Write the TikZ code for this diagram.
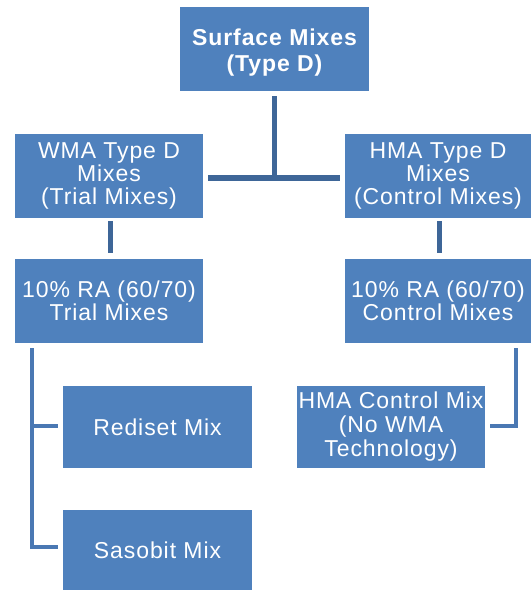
\documentclass[tikz,border=0pt]{standalone}
\usepackage{fontspec}
\setmainfont{Liberation Sans}
\newfontfamily\boxfont[LetterSpace=4]{Liberation Sans}
\definecolor{boxblue}{HTML}{4F81BD}
\definecolor{linedark}{HTML}{3E6698}
\definecolor{linelight}{HTML}{4A78B3}
\tikzset{
  mixbox/.style={rectangle, fill=boxblue, draw=none, inner sep=0pt, text=white, align=center,
    font={\boxfont\fontsize{23}{22.8}\selectfont}},
  topbox/.style={mixbox, font={\boxfont\bfseries\fontsize{23}{26}\selectfont}},
  conndark/.style={draw=linedark, line width=5.5pt},
  connlight/.style={draw=linelight, line width=3.5pt}
}
\begin{document}
\begin{tikzpicture}[x=1pt,y=-1pt]
\useasboundingbox (0,0) rectangle (531,590);
\node[topbox, minimum width=189pt, minimum height=84pt] (top) at (274.5,49) {\rule{0pt}{23pt}Surface Mixes\\(Type D)};
\node[mixbox, minimum width=188pt, minimum height=84pt] (wma) at (109,176) {WMA Type D\\Mixes\\(Trial Mixes)};
\node[mixbox, minimum width=186pt, minimum height=84pt] (hma) at (438,176) {HMA Type D\\Mixes\\(Control Mixes)};
\node[mixbox, minimum width=188pt, minimum height=84pt] (ra1) at (109,301) {10\% RA (60/70)\\Trial Mixes};
\node[mixbox, minimum width=186pt, minimum height=84pt] (ra2) at (438,301) {10\% RA (60/70)\\Control Mixes};
\node[mixbox, minimum width=189pt, minimum height=82pt] (red) at (157.5,427) {Rediset Mix};
\node[mixbox, minimum width=189pt, minimum height=80pt] (sas) at (157.5,550) {Sasobit Mix};
\node[mixbox, minimum width=188pt, minimum height=82pt, font={\boxfont\fontsize{23}{24}\selectfont}] (hmac) at (391,427) {HMA Control Mix\\(No WMA\\Technology)};
% top connectors
\coordinate (junc) at ([yshift=-2pt]top.south |- wma.east);
\draw[conndark] ([yshift=-5pt]top.south) -- (junc);
\draw[conndark] ([xshift=5pt,yshift=-2pt]wma.east) -- ([xshift=-5pt,yshift=-2pt]hma.west);
\draw[conndark, line width=5pt] ([xshift=1pt,yshift=-3pt]wma.south) -- ([xshift=1pt,yshift=6pt]ra1.north);
\draw[conndark, line width=5pt] ([xshift=1.5pt,yshift=-3pt]hma.south) -- ([xshift=1.5pt,yshift=6pt]ra2.north);
% lower brackets
\draw[connlight] ([xshift=17pt,yshift=-5pt]ra1.south west) |- ([xshift=-5pt,yshift=1pt]red.west);
\draw[connlight] ([xshift=17pt,yshift=-5pt]ra1.south west) |- ([xshift=-5pt,yshift=3pt]sas.west);
\draw[connlight, line width=4.5pt] ([xshift=-15pt,yshift=-5pt]ra2.south east) |- ([xshift=5pt,yshift=1pt]hmac.east);
\end{tikzpicture}
\end{document}
